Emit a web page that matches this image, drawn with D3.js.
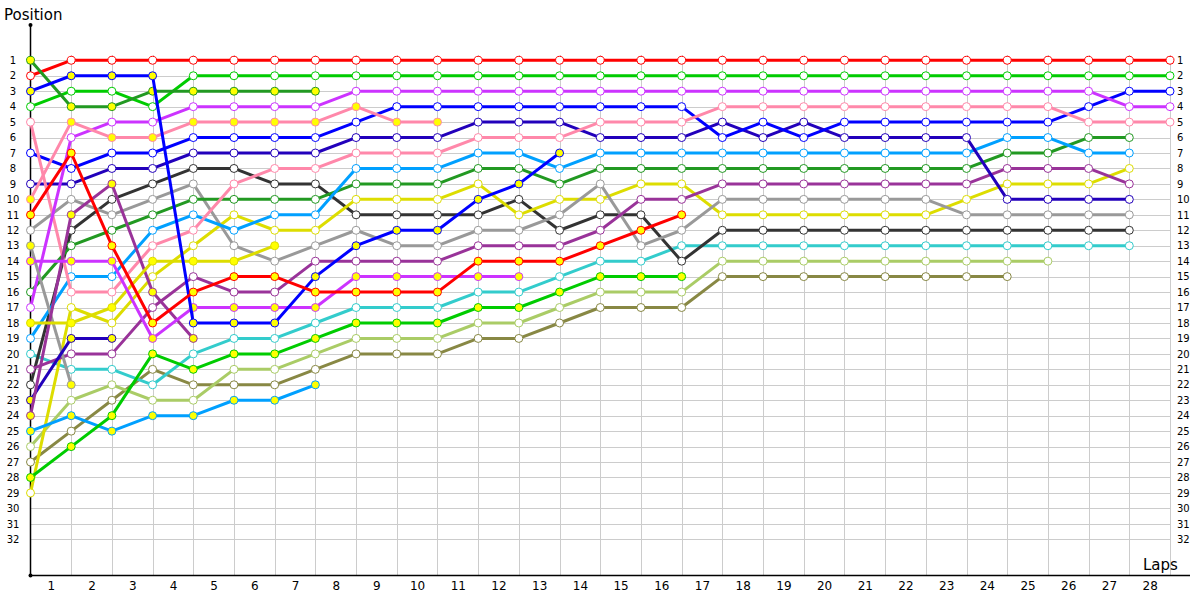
<!DOCTYPE html>
<html>
<head>
<meta charset="utf-8">
<script src="https://cdn.jsdelivr.net/npm/d3@7"></script>
<style>
  body { margin: 0; background: #fff; }
  svg { display: block; font-family: "DejaVu Sans", sans-serif; }
</style>
</head>
<body>
<div id="chart"></div>
<script>
// race positions per lap, index 0 = grid
const redW        = [2,1,1,1,1,1,1,1,1,1,1,1,1,1,1,1,1,1,1,1,1,1,1,1,1,1,1,1,1];
const greenW      = [4,3,3,4,2,2,2,2,2,2,2,2,2,2,2,2,2,2,2,2,2,2,2,2,2,2,2,2,2];
const violetW     = [17,6,5,5,4,4,4,4,3,3,3,3,3,3,3,3,3,3,3,3,3,3,3,3,3,3,3,4,4];
const pinkW       = [5,16,16,13,12,9,8,8,7,7,7,6,6,6,5,5,5,4,4,4,4,4,4,4,4,4,5,5,5];
const blueW       = [7,8,7,7,6,6,6,6,5,4,4,4,4,4,4,4,4,6,5,6,5,5,5,5,5,5,4,3,3];
const darkBlueW   = [9,9,8,8,7,7,7,7,6,6,6,5,5,5,6,6,6,5,6,5,6,6,6,6,10,10,10,10];
const lightBlueW  = [19,15,15,12,11,12,11,11,8,8,8,7,7,8,7,7,7,7,7,7,7,7,7,7,6,6,7,7];
const forestW     = [16,13,12,11,10,10,10,10,9,9,9,8,8,9,8,8,8,8,8,8,8,8,8,8,7,7,6,6];
const purpleW     = [21,20,20,17,15,16,16,14,14,14,14,13,13,13,12,10,10,9,9,9,9,9,9,9,8,8,8,9];
const greyW       = [12,10,11,10,9,13,14,13,12,13,13,12,12,11,9,13,12,10,10,10,10,10,10,11,11,11,11,11];
const yellowW     = [29,17,18,15,13,11,12,12,10,10,10,9,11,10,10,9,9,11,11,11,11,11,11,10,9,9,9,8];
const blackW      = [22,12,10,9,8,8,9,9,11,11,11,11,10,12,11,11,14,12,12,12,12,12,12,12,12,12,12,12];
const tealW       = [20,21,21,22,20,19,19,18,17,17,17,16,16,15,14,14,13,13,13,13,13,13,13,13,13,13,13,13];
const lightGreenW = [26,23,22,23,23,21,21,20,19,19,19,18,18,17,16,16,16,14,14,14,14,14,14,14,14,14];
const oliveW      = [27,25,23,21,22,22,22,21,20,20,20,19,19,18,17,17,17,15,15,15,15,15,15,15,15];

const forestY     = [1,4,4,3,3,3,3,3];
const blueY       = [3,2,2,2,18,18,18,15,13,12,12,10,9,7];
const pinkY       = [10,5,6,6,5,5,5,5,4,5,5];
const redY        = [11,7,13,18,16,15,15,16,16,16,16,14,14,14,13,12,11];
const greyY       = [13,22];
const violetY     = [14,14,14,19,17,17,17,17,15,15,15,15,15];
const yellowY     = [18,18,17,14,14,14,13];
const darkBlueY   = [23,19,19];
const purpleY     = [24,11,9,16,19];
const lightBlueY  = [25,24,25,24,24,23,23,22];
const greenY      = [28,26,24,20,21,20,20,19,18,18,18,17,17,16,15,15,15];

const lapLabels = d3.range(1, 29);
const positionLabels = d3.range(1, 33);

const teamColours = {
  red: '#ff0000', green: '#00cc00', violet: '#cc33ff', pink: '#ff88aa',
  blue: '#0000ff', darkBlue: '#2200bb', lightBlue: '#00a0ff', forest: '#229922',
  purple: '#993399', grey: '#999999', yellow: '#dddd00', black: '#333333',
  teal: '#33cccc', lightGreen: '#aacc66', olive: '#888844'
};

const drivers = [
  ['olive', oliveW, false], ['lightGreen', lightGreenW, false], ['teal', tealW, false],
  ['black', blackW, false], ['yellow', yellowW, false], ['grey', greyW, false],
  ['purple', purpleW, false], ['forest', forestW, false], ['lightBlue', lightBlueW, false],
  ['darkBlue', darkBlueW, false], ['blue', blueW, false], ['pink', pinkW, false],
  ['violet', violetW, false], ['green', greenW, false], ['red', redW, false],
  ['greyY', greyY, true], ['darkBlueY', darkBlueY, true], ['purpleY', purpleY, true],
  ['yellowY', yellowY, true], ['lightBlueY', lightBlueY, true], ['forestY', forestY, true],
  ['pinkY', pinkY, true], ['violetY', violetY, true], ['blueY', blueY, true],
  ['redY', redY, true], ['greenY', greenY, true]
].map(([key, positions, pitted]) => ({
  colour: teamColours[key.replace(/Y$/, '')],
  pitted: pitted,
  points: positions.map((p, lap) => ({ lap: lap, pos: p }))
}));

const width = 1200;
const height = 600;
const gridColour = '#cccccc';
const pitFill = '#ffff00';

const svg = d3.select('#chart').append('svg')
  .attr('width', width)
  .attr('height', height);

const x = d3.scaleLinear().domain([0, 28]).range([30.5, 1170]);
const y = d3.scaleLinear().domain([1, 32]).range([60.3, 539.3]);
const axisY = 575.5;

// grid
svg.append('g').selectAll('line')
  .data(positionLabels)
  .enter().append('line')
  .attr('x1', x(0)).attr('x2', x(28))
  .attr('y1', d => Math.round(y(d)) + 0.5).attr('y2', d => Math.round(y(d)) + 0.5)
  .attr('stroke', gridColour);

svg.append('g').selectAll('line')
  .data(lapLabels)
  .enter().append('line')
  .attr('x1', d => Math.round(x(d)) + 0.5).attr('x2', d => Math.round(x(d)) + 0.5)
  .attr('y1', 55).attr('y2', axisY)
  .attr('stroke', gridColour);

// axes
const left = svg.append('g')
  .attr('transform', 'translate(13,0)')
  .call(d3.axisLeft(y).tickValues(positionLabels).tickSize(0).tickPadding(0));
left.select('.domain').remove();
left.selectAll('text').attr('font-size', 10).attr('font-family', '"DejaVu Sans", sans-serif').attr('fill', '#000').attr('text-anchor', 'middle');

const right = svg.append('g')
  .attr('transform', 'translate(1177,0)')
  .call(d3.axisRight(y).tickValues(positionLabels).tickSize(0).tickPadding(0));
right.select('.domain').remove();
right.selectAll('text').attr('font-size', 10).attr('font-family', '"DejaVu Sans", sans-serif').attr('fill', '#000');

const bottom = svg.append('g')
  .attr('transform', `translate(0,${axisY + 6})`)
  .call(d3.axisBottom(x).tickValues(lapLabels.map(l => l - 0.5)).tickFormat(d => d + 0.5).tickSize(0).tickPadding(0));
bottom.select('.domain').remove();
bottom.selectAll('text').attr('font-size', 12).attr('font-family', '"DejaVu Sans", sans-serif').attr('fill', '#000');

svg.append('line')
  .attr('x1', 30.5).attr('x2', 30.5).attr('y1', 25).attr('y2', axisY)
  .attr('stroke', '#000').attr('stroke-width', 1.5);
svg.append('line')
  .attr('x1', 30.5).attr('x2', 1190).attr('y1', axisY).attr('y2', axisY)
  .attr('stroke', '#000').attr('stroke-width', 1.5);
svg.append('circle').attr('cx', 30.5).attr('cy', 25).attr('r', 2).attr('fill', '#000');
svg.append('circle').attr('cx', 30.5).attr('cy', axisY).attr('r', 2).attr('fill', '#000');

svg.append('text')
  .attr('x', 4).attr('y', 20)
  .attr('font-size', 15)
  .text('Position');
svg.append('text')
  .attr('x', 1143).attr('y', 570)
  .attr('font-size', 15)
  .text('Laps');

// drivers
const line = d3.line()
  .x(d => x(d.lap))
  .y(d => y(d.pos));

const g = svg.append('g');
drivers.forEach(driver => {
  const dg = g.append('g');
  dg.append('path')
    .attr('d', line(driver.points))
    .attr('fill', 'none')
    .attr('stroke', driver.colour)
    .attr('stroke-width', 3)
    .attr('stroke-linejoin', 'round');
  dg.selectAll('circle')
    .data(driver.points)
    .enter().append('circle')
    .attr('cx', d => x(d.lap))
    .attr('cy', d => y(d.pos))
    .attr('r', 4)
    .attr('fill', driver.pitted ? pitFill : '#fff')
    .attr('stroke', driver.colour)
    .attr('stroke-width', 1);
});
</script>
</body>
</html>
